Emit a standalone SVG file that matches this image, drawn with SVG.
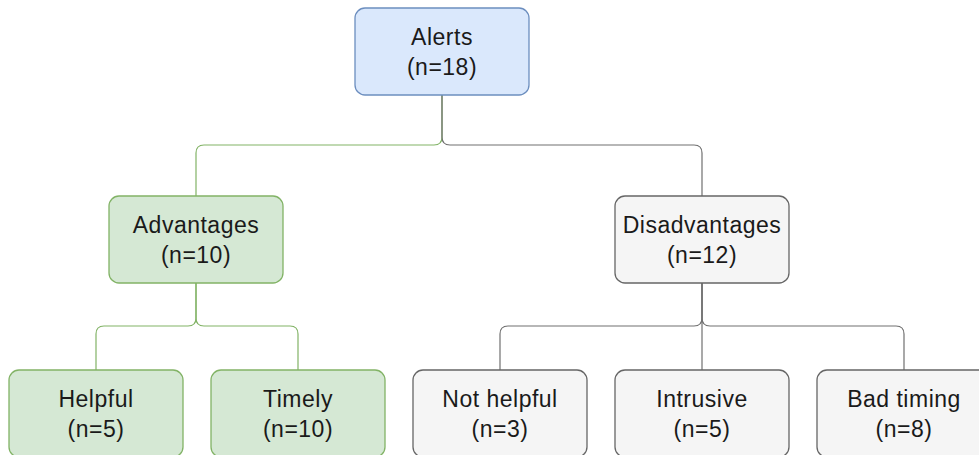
<svg xmlns="http://www.w3.org/2000/svg" width="979" height="455" viewBox="0 0 979 455">
  <style>
    .box { stroke-width: 1.3; }
    .blue { fill: #dae8fc; stroke: #6c8ebf; }
    .green { fill: #d5e8d4; stroke: #82b366; }
    .grey { fill: #f5f5f5; stroke: #666666; }
    .label { font-family: "Liberation Sans", Arial, sans-serif; font-size: 23px; letter-spacing: 0.5px; fill: #1a1a1a; text-anchor: middle; }
    .edge { fill: none; stroke-width: 1.2; }
    .edge-green { stroke: #82b366; }
    .edge-grey { stroke: #707070; }
  </style>
  <rect width="979" height="455" fill="#ffffff"/>

  <g id="connectors">
    <path class="edge edge-green" d="M442,95 V137 Q442,145 434,145 H204 Q196,145 196,153 V196"/>
    <path class="edge edge-grey" d="M442,95 V137 Q442,145 450,145 H694 Q702,145 702,153 V196"/>
    <path class="edge edge-green" d="M196,283 V318 Q196,326 188,326 H104 Q96,326 96,334 V370"/>
    <path class="edge edge-green" d="M196,283 V318 Q196,326 204,326 H290 Q298,326 298,334 V370"/>
    <path class="edge edge-grey" d="M702,283 V318 Q702,326 694,326 H508 Q500,326 500,334 V370"/>
    <path class="edge edge-grey" d="M702,283 V370"/>
    <path class="edge edge-grey" d="M702,283 V318 Q702,326 710,326 H896 Q904,326 904,334 V370"/>
  </g>

  <g id="alerts">
    <rect class="box blue" x="355" y="8" width="174" height="87" rx="10"/>
    <text class="label" x="442" y="45">Alerts</text>
    <text class="label" x="442" y="75">(n=18)</text>
  </g>

  <g id="advantages">
    <rect class="box green" x="109" y="196" width="174" height="87" rx="10"/>
    <text class="label" x="196" y="233">Advantages</text>
    <text class="label" x="196" y="263">(n=10)</text>
  </g>

  <g id="disadvantages">
    <rect class="box grey" x="615" y="196" width="174" height="87" rx="10"/>
    <text class="label" x="702" y="233">Disadvantages</text>
    <text class="label" x="702" y="263">(n=12)</text>
  </g>

  <g id="helpful">
    <rect class="box green" x="9" y="370" width="174" height="87" rx="10"/>
    <text class="label" x="96" y="407">Helpful</text>
    <text class="label" x="96" y="437">(n=5)</text>
  </g>

  <g id="timely">
    <rect class="box green" x="211" y="370" width="174" height="87" rx="10"/>
    <text class="label" x="298" y="407">Timely</text>
    <text class="label" x="298" y="437">(n=10)</text>
  </g>

  <g id="not-helpful">
    <rect class="box grey" x="413" y="370" width="174" height="87" rx="10"/>
    <text class="label" x="500" y="407">Not helpful</text>
    <text class="label" x="500" y="437">(n=3)</text>
  </g>

  <g id="intrusive">
    <rect class="box grey" x="615" y="370" width="174" height="87" rx="10"/>
    <text class="label" x="702" y="407">Intrusive</text>
    <text class="label" x="702" y="437">(n=5)</text>
  </g>

  <g id="bad-timing">
    <rect class="box grey" x="817" y="370" width="174" height="87" rx="10"/>
    <text class="label" x="904" y="407">Bad timing</text>
    <text class="label" x="904" y="437">(n=8)</text>
  </g>
</svg>
